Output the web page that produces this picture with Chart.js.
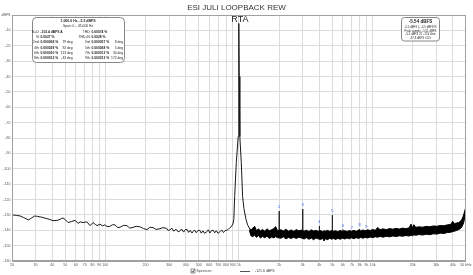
<!DOCTYPE html>
<html><head><meta charset="utf-8">
<script src="https://cdn.jsdelivr.net/npm/chart.js"></script>
<style>html,body{margin:0;padding:0;background:#fff;overflow:hidden}canvas{display:block}</style>
</head><body>
<canvas id="c" width="473" height="275"></canvas>
<script>
const chartTitle = 'ESI JULI LOOPBACK REW';
const xTickValues = [20,30,40,50,60,70,80,90,100,200,300,400,500,600,700,800,900,1000,2000,3000,4000,5000,6000,7000,8000,9000,10000,20000,30000,40000,50000];
const xTickLabels = ['20','30','40','50','60','70','80','90','100','200','300','400','500','600','700','800','900','1k','2k','3k','4k','5k','6k','7k','8k','9k','10k','20k','30k','40k','50 kHz'];
const yTickValues = [-160,-150,-140,-130,-120,-110,-100,-90,-80,-70,-60,-50,-40,-30,-20,-10,0];
const yTickLabels = ['-160','-150','-140','-130','-120','-110','-100','-90','-80','-70','-60','-50','-40','-30','-20','-10','dBFS'];

// Spectrum below the band region (20 Hz .. fundamental skirts)
const lfFreq = [20,21.5,23,24.5,26.6,28,29.6,31,33.4,36,38.4,40.6,44,46,48.2,50,52.6,56,59.3,62.4,65,68.1,72.6,76.8,80.9,84,86.6,91.1,95,99.1,103,108,113,118,124,129,137,145,152,161,170,182,193,205,215,227,240,256,270,288,295,303,315,325,338,350,361,372,385,397,409,420,432,445,452,465,478,492,509,522,538,552,575,590,606,622,640,658,676,698,720,742,765,788,810,830,852,880,901,915,929,955,987,995,1000,1005,1015,1041,1065,1090,1130,1160,1196];
const lfLevel = [-130,-130.3,-130.7,-131.8,-133.3,-132,-130.7,-131,-131.5,-132.3,-133,-133.8,-133.5,-132.8,-132,-133,-135,-134.3,-133.5,-135.5,-134.6,-135,-134.5,-137,-135,-136.2,-137,-136,-137.2,-136.5,-137.6,-137.5,-136.4,-136.5,-138.3,-138,-136.8,-137,-138.6,-138.2,-137.4,-137.8,-138.9,-139.6,-138.1,-138.2,-139.5,-139,-138.3,-138.8,-140.2,-139.8,-138.7,-140.6,-139.3,-141,-140.5,-139.2,-141.2,-139.6,-139.5,-141.4,-140.1,-141.8,-141,-139.8,-141.6,-140.3,-140,-141.9,-140.4,-142,-141,-139.7,-141.8,-140.2,-140,-141.7,-140.3,-142,-141,-139.8,-141.5,-140.2,-140,-139.5,-138.5,-137.5,-136,-133,-118,-96,-79,-40,-5.5,-40,-79,-96,-118,-126,-133,-136.5,-138.5];

// Noise band above the fundamental (upper / lower edge)
const bandFreq = [1196,1230,1270,1310,1350,1400,1450,1500,1560,1620,1690,1760,1830,1880,1940,2060,2150,2250,2350,2460,2570,2690,2810,2930,3070,3200,3340,3480,3620,3770,3920,4080,4250,4330,4420,4600,4790,4920,5100,5300,5500,5720,5950,6200,6450,6700,6950,7250,7550,7850,8150,8500,8800,9200,9600,10000,10500,10900,11400,12000,12700,13400,14200,15000,15900,16800,17800,18800,19400,19900,20400,21000,22300,23700,25200,26800,28500,30300,32200,34200,36300,38500,39800,41000,42500,44000,45500,46500,47500,48300,49000,49600,50000];
const bandHigh = [-138.5,-139.8,-138.6,-137.4,-140.1,-139.2,-140.4,-139.5,-140.6,-139.1,-140.3,-139.6,-138.9,-137.6,-140.2,-139.7,-140.5,-139.4,-140.6,-139.8,-140.7,-139.6,-140.4,-139.9,-140.6,-140.0,-140.8,-139.7,-140.5,-140.1,-140.7,-140.2,-140.9,-140.3,-140.6,-140.1,-140.8,-140.2,-140.6,-140.3,-140.9,-140.2,-140.7,-140.3,-140.8,-140.2,-140.6,-140.1,-140.7,-139.9,-140.5,-139.8,-140.4,-139.7,-140.2,-139.5,-140.0,-138.2,-139.6,-139.1,-139.6,-138.9,-139.3,-138.8,-139.2,-138.6,-139.0,-138.4,-136.0,-138.3,-136.4,-138.1,-137.8,-138.0,-137.5,-137.7,-137.2,-137.4,-136.9,-137.1,-136.5,-136.2,-134.2,-135.8,-135.3,-135.0,-134.2,-133.0,-131.4,-129.5,-127.4,-125.8,-124.5];
const bandLow = [-140,-143.6,-144.2,-143.1,-144.6,-143.4,-145.1,-144.0,-144.9,-143.8,-145.3,-144.4,-145.0,-144.1,-144.8,-145.2,-144.3,-145.6,-144.7,-145.3,-144.6,-145.4,-144.5,-145.0,-145.7,-144.8,-145.9,-145.1,-146.2,-145.0,-145.6,-146.0,-145.3,-147.0,-145.5,-146.1,-145.2,-145.8,-145.4,-146.0,-145.2,-145.9,-145.1,-145.7,-145.0,-145.6,-144.9,-145.5,-144.8,-145.3,-144.7,-145.2,-144.6,-145.0,-144.4,-144.8,-144.2,-144.6,-144.0,-144.5,-143.9,-144.3,-143.7,-144.1,-143.6,-143.9,-143.4,-143.8,-143.2,-143.6,-143.0,-143.3,-142.8,-143.1,-142.6,-142.9,-142.3,-142.5,-141.9,-142.1,-141.5,-141.3,-140.9,-140.6,-140.2,-139.6,-138.9,-138.0,-136.4,-134.5,-131.5,-128.5,-125];

// Harmonic peaks
const harmonicFreq = [2000,3000,4000,5000,6000,7000,8000,9000];
const harmonicLevel = [-127.5,-126.2,-137.2,-130.1,-139.6,-140.8,-139.2,-140.4];
const harmonicLabel = ['2','3','4','5','6','7','8','9'];

const legendLabels = ['Spectrum','-121.6 dBFS'];
const rtaLabel = 'RTA';

const infoLeft = {
  head: ['1,000.0 Hz, -5.5 dBFS','Span: 0 \u2013 45,000 Hz'],
  rows: [
    [['N+D:','-103.4 dBFS A',''],['THD:','0.00074 %','']],
    [['N:','0.0027 %',''],['THD+N:','0.0028 %','']],
    [['2nd:','0.000068 %','79 deg'],['3rd:','0.000057 %','8 deg']],
    [['4th:','0.000029 %','92 deg'],['5th:','0.000068 %','5 deg']],
    [['6th:','0.000010 %','113 deg'],['7th:','0.000013 %','30 deg']],
    [['8th:','0.000012 %','-33 deg'],['9th:','0.000013 %','172 deg']]
  ]
};
const infoRight = ['-5.54 dBFS','-5.5 dBFS L, -5.5 dBFS R','Peak sample: -5.51 dBFS','-5.5 dBFS 22 - 22k Unw','-97.8 dBFS <22>'];

const pts = (xs, ys) => xs.map((x, i) => ({x: x, y: ys[i]}));
const spikePts = [];
harmonicFreq.forEach((f, i) => {
  spikePts.push({x: f * 0.998, y: -142});
  spikePts.push({x: f, y: harmonicLevel[i]});
  spikePts.push({x: f * 1.002, y: -142});
  spikePts.push({x: f * 1.002, y: null});
});

function rr(ctx, x, y, w, h, r) {
  ctx.beginPath();
  ctx.moveTo(x + r, y);
  ctx.lineTo(x + w - r, y); ctx.quadraticCurveTo(x + w, y, x + w, y + r);
  ctx.lineTo(x + w, y + h - r); ctx.quadraticCurveTo(x + w, y + h, x + w - r, y + h);
  ctx.lineTo(x + r, y + h); ctx.quadraticCurveTo(x, y + h, x, y + h - r);
  ctx.lineTo(x, y + r); ctx.quadraticCurveTo(x, y, x + r, y);
  ctx.closePath();
}

const decor = {
  id: 'decor',
  afterDraw(chart) {
    const ctx = chart.ctx, a = chart.chartArea, xs = chart.scales.x, ys = chart.scales.y;
    ctx.save();
    // frame
    ctx.strokeStyle = '#a0a0a0'; ctx.lineWidth = 1;
    ctx.strokeRect(Math.round(a.left) + 0.5, Math.round(a.top) + 0.5, Math.round(a.right - a.left) - 1, Math.round(a.bottom - a.top) - 1);
    // title
    ctx.fillStyle = '#333'; ctx.font = '8px Arial'; ctx.textAlign = 'center'; ctx.textBaseline = 'middle';
    ctx.fillText(chartTitle, 236.5, 7.5);
    // RTA
    ctx.font = '9px Arial'; ctx.fillStyle = '#222';
    ctx.fillText(rtaLabel, xs.getPixelForValue(1000) + 1, 20);
    // harmonic labels
    ctx.font = '4px Arial'; ctx.fillStyle = '#3355ee';
    harmonicFreq.forEach((f, i) => {
      ctx.fillText(harmonicLabel[i], xs.getPixelForValue(f), ys.getPixelForValue(harmonicLevel[i]) - 4);
    });
    // left info box
    rr(ctx, 32.5, 17.5, 92, 45, 4);
    ctx.fillStyle = '#fff'; ctx.fill(); ctx.strokeStyle = '#888'; ctx.stroke();
    ctx.fillStyle = '#222';
    ctx.font = 'bold 3.5px Arial'; ctx.textAlign = 'center';
    ctx.fillText(infoLeft.head[0], 78, 21.5);
    ctx.font = '3.3px Arial';
    ctx.fillText(infoLeft.head[1], 78, 26.5);
    infoLeft.rows.forEach((row, r) => {
      const y = 32 + r * 5.2;
      const cols = [{lx: 39.5, dx: 72.5}, {lx: 90.5, dx: 123}];
      row.forEach((c, k) => {
        ctx.font = '3.3px Arial'; ctx.textAlign = 'right';
        ctx.fillText(c[0], cols[k].lx, y);
        ctx.font = 'bold 3.3px Arial'; ctx.textAlign = 'left';
        ctx.fillText(c[1], cols[k].lx + 1, y);
        ctx.font = '3.3px Arial'; ctx.textAlign = 'right';
        if (c[2]) ctx.fillText(c[2], cols[k].dx, y);
      });
    });
    // right info box
    rr(ctx, 401.5, 17.5, 38, 23.5, 3);
    ctx.fillStyle = '#fff'; ctx.fill(); ctx.strokeStyle = '#888'; ctx.stroke();
    ctx.fillStyle = '#222'; ctx.textAlign = 'center';
    ctx.font = 'bold 4.5px Arial';
    ctx.fillText(infoRight[0], 420.5, 21.5);
    ctx.font = '2.8px Arial';
    for (let i = 1; i < infoRight.length; i++) ctx.fillText(infoRight[i], 420.5, 23.8 + i * 3.6);
    // legend
    ctx.strokeStyle = '#777'; ctx.lineWidth = 0.8;
    ctx.strokeRect(191, 269, 4, 4);
    ctx.beginPath(); ctx.moveTo(191.8, 271); ctx.lineTo(192.8, 272.3); ctx.lineTo(194.4, 269.6); ctx.strokeStyle = '#333'; ctx.stroke();
    ctx.fillStyle = '#444'; ctx.font = '3.5px Arial'; ctx.textAlign = 'left';
    ctx.fillText(legendLabels[0], 196.5, 271.2);
    ctx.strokeStyle = '#555'; ctx.lineWidth = 1;
    ctx.beginPath(); ctx.moveTo(240, 271.5); ctx.lineTo(250, 271.5); ctx.stroke();
    ctx.fillText(legendLabels[1], 255, 271.2);
    ctx.restore();
  }
};

new Chart(document.getElementById('c'), {
  type: 'line',
  data: {
    datasets: [
      {data: pts(lfFreq, lfLevel), borderColor: '#1a1a1a', borderWidth: 1, pointRadius: 0, fill: false, tension: 0},
      {data: pts(bandFreq, bandHigh), borderColor: '#000', borderWidth: 1, pointRadius: 0, fill: '+1', backgroundColor: '#000', tension: 0},
      {data: pts(bandFreq, bandLow), borderColor: '#000', borderWidth: 1, pointRadius: 0, fill: false, tension: 0},
      {data: spikePts, borderColor: '#222', borderWidth: 1, pointRadius: 0, fill: false, tension: 0, spanGaps: false}
    ]
  },
  options: {
    responsive: false, animation: false, devicePixelRatio: 1,
    layout: {padding: {left: 0, right: 7, top: 15, bottom: 0}},
    plugins: {legend: {display: false}, tooltip: {enabled: false}, title: {display: false}},
    scales: {
      x: {
        type: 'logarithmic', min: 20, max: 50000,
        afterBuildTicks: s => { s.ticks = xTickValues.map(v => ({value: v})); },
        afterFit: s => { s.height = 14; },
        ticks: {autoSkip: false, maxRotation: 0, minRotation: 0, padding: 1.5, color: '#555', font: {size: 3.6, family: 'Arial'},
          callback: (v) => xTickLabels[xTickValues.indexOf(v)]},
        grid: {color: '#dcdcdc', drawTicks: false, lineWidth: 1},
        border: {display: true, color: '#a0a0a0'}
      },
      y: {
        type: 'linear', min: -160, max: 0,
        afterBuildTicks: s => { s.ticks = yTickValues.map(v => ({value: v})); },
        afterFit: s => { s.width = 12; },
        ticks: {autoSkip: false, padding: 1.5, color: '#555', font: {size: 3.6, family: 'Arial'},
          callback: (v) => yTickLabels[yTickValues.indexOf(v)]},
        grid: {color: '#dcdcdc', drawTicks: false, lineWidth: 1},
        border: {display: true, color: '#a0a0a0'}
      }
    }
  },
  plugins: [decor]
});
</script>
</body></html>
